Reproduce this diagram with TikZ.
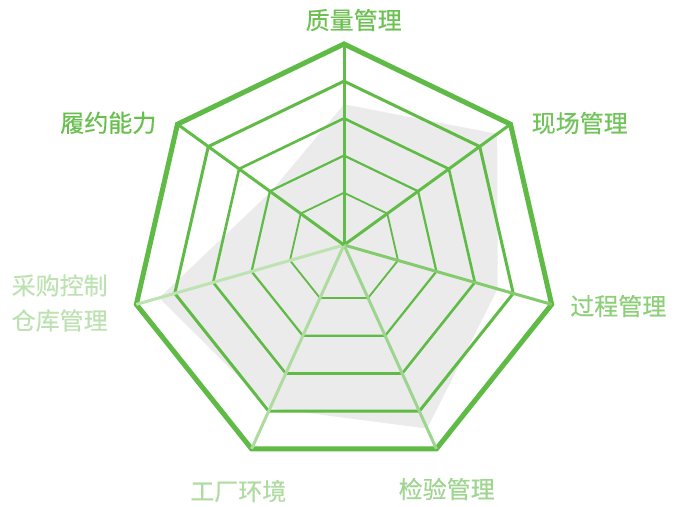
\documentclass[tikz,border=0pt]{standalone}
\usepackage{fontspec}
\newfontfamily\cjk[FakeBold=0.4]{Noto Sans CJK SC}
\usetikzlibrary{calc}

\definecolor{ringgreen}{HTML}{5FBB46}
\definecolor{areagray}{HTML}{EBEBEB}
\definecolor{spokeA}{HTML}{62BC48}
\definecolor{spokeB}{HTML}{84CB6E}
\definecolor{spokeC}{HTML}{9ED58E}
\definecolor{spokeD}{HTML}{AEDB9F}
\definecolor{spokeE}{HTML}{BDE3B0}
\definecolor{textA}{HTML}{6DC153}
\definecolor{textB}{HTML}{72C35A}
\definecolor{textC}{HTML}{8CCF78}
\definecolor{textD}{HTML}{9FD590}
\definecolor{textE}{HTML}{B0DBA2}
\definecolor{textF}{HTML}{BDE2B1}
\definecolor{textG}{HTML}{68BF4E}

\begin{document}
\begin{tikzpicture}[x=0.75pt, y=0.75pt]

    % Set the canvas size (the hub of the spokes is the origin)
    \useasboundingbox (-344,-261) rectangle (333,245);

    % Define styles
    \tikzset{
        ring/.style={draw=ringgreen, line join=miter},
        spoke/.style={line width=2.25pt},
        axislabel/.style={font=\cjk\fontsize{18}{26.25}\selectfont, align=center, inner sep=0pt},
    }

    % Hub of the spokes and centre of the outer heptagon
    \coordinate (hub) at (0,0);
    \coordinate (ctr) at (0,-12);
    \foreach \i in {0,...,6} {
        \coordinate (v\i) at ($(ctr)+({90-\i*360/7}:213)$);
    }

    % Data area
    \foreach \i/\f in {0/0.70, 1/0.92, 2/0.74, 3/0.90, 4/0.80, 5/0.89, 6/0.44} {
        \coordinate (d\i) at ($(hub)!\f!(v\i)$);
    }
    \fill[areagray] (d0) -- (d1) -- (d2) -- (d3) -- (d4) -- (d5) -- (d6) -- cycle;

    % Rings, scaled about the hub
    \foreach \f/\w in {0.26/1.35pt, 0.445/1.65pt, 0.63/1.95pt, 0.815/2.25pt, 1/3.75pt} {
        \draw[ring, line width=\w]
            ($(hub)!\f!(v0)$) -- ($(hub)!\f!(v1)$) -- ($(hub)!\f!(v2)$) -- ($(hub)!\f!(v3)$)
            -- ($(hub)!\f!(v4)$) -- ($(hub)!\f!(v5)$) -- ($(hub)!\f!(v6)$) -- cycle;
    }

    % Spokes
    \foreach \i/\c in {0/spokeA, 1/spokeA, 2/spokeB, 3/spokeC, 4/spokeD, 5/spokeE, 6/spokeA} {
        \draw[spoke, color=\c] (hub) -- (v\i);
    }

    % Axis labels
    \node[axislabel, text=textA] (zl) at (9.7,225) {质量管理};
    \node[axislabel, text=textB] (xc) at (235.7,122) {现场管理};
    \node[axislabel, text=textC] (gc) at (274.3,-61) {过程管理};
    \node[axislabel, text=textD] (jy) at (102.7,-244) {检验管理};
    \node[axislabel, text=textE] (gh) at (-105.7,-246) {工厂环境};
    \node[axislabel, text=textF] (cg) at (-284.3,-58) {采购控制\\仓库管理};
    \node[axislabel, text=textG] (ly) at (-235.7,122.2) {履约能力};

\end{tikzpicture}
\end{document}
